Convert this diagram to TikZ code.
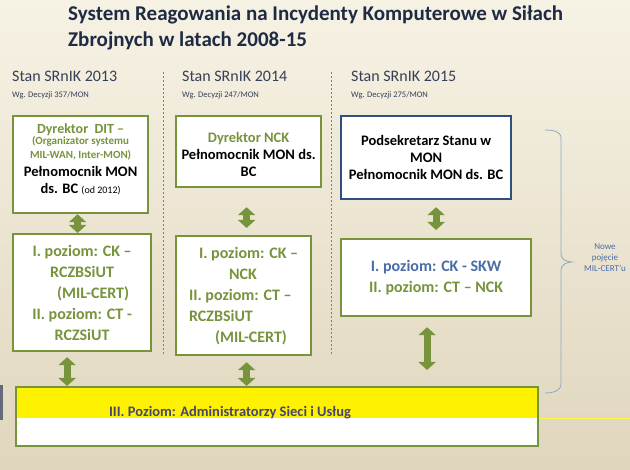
\documentclass[tikz,border=0pt]{standalone}
\usepackage{fontspec}
\setmainfont{Carlito}
\usetikzlibrary{arrows.meta}
\definecolor{gr}{HTML}{77933C}
\definecolor{bl}{HTML}{2F4F80}
\definecolor{tb}{HTML}{4A6DA7}
\definecolor{navy}{HTML}{1F2A44}
\definecolor{brc}{HTML}{8FA8C8}
\tikzset{
  box/.style={draw=gr,line width=2.2pt,fill=white,anchor=north west,inner sep=0pt},
  bbox/.style={box,draw=bl},
  txt/.style={font=\bfseries,align=center,inner sep=0pt},
  garrow/.style={draw=gr,line width=7pt,{Triangle[width=17pt,length=8pt]}-{Triangle[width=17pt,length=8pt]}},
  hdr/.style={anchor=north west,inner sep=0pt,font=\fontsize{16}{18}\selectfont,text=navy!90},
  sub/.style={anchor=north west,inner sep=0pt,font=\fontsize{8.5}{9}\selectfont,text=navy!90},
}
\begin{document}
\begin{tikzpicture}[x=1pt,y=-1pt]
\useasboundingbox (0,0) rectangle (630,470);
\shade[top color={rgb,255:red,246;green,242;blue,228},bottom color={rgb,255:red,224;green,214;blue,190}] (0,0) rectangle (630,470);
\node[anchor=north west,inner sep=0pt,font=\fontsize{21}{26}\selectfont\bfseries,text=navy,align=left] (title) at (68,6) {System Reagowania na Incydenty Komputerowe w Siłach\\Zbrojnych w latach 2008-15};
% headers
\node[hdr] (h1) at (12,71) {Stan SRnIK 2013};
\node[sub] (s1) at (12,91) {Wg. Decyzji 357/MON};
\node[hdr] (h2) at (182,71) {Stan SRnIK 2014};
\node[sub] (s2) at (182,91) {Wg. Decyzji 247/MON};
\node[hdr] (h3) at (351,71) {Stan SRnIK 2015};
\node[sub] (s3) at (351,91) {Wg. Decyzji 275/MON};
\draw[navy!60,dashed,dash pattern=on 2pt off 2pt] (163,72) coordinate (d1a) -- (163,355) coordinate (d1b);
\draw[navy!60,dashed,dash pattern=on 2pt off 2pt] (331,72) coordinate (d2a) -- (331,355) coordinate (d2b);
% column 1
\node[box,minimum width=135pt,minimum height=97pt] (a1) at (12,115) {};
\node[txt,anchor=north,text=gr,font=\fontsize{14}{16}\selectfont\bfseries] (a1t) at ([yshift=-8pt]a1.north) {Dyrektor\ \ DIT –};
\node[txt,anchor=north,text=gr,font=\fontsize{11}{13.5}\selectfont\bfseries] (a1u) at ([yshift=-1pt]a1t.south) {(Organizator systemu\\MIL-WAN, Inter-MON)};
\node[txt,anchor=north,font=\fontsize{14.5}{17}\selectfont\bfseries] (a1v) at ([yshift=-6pt]a1u.south) {Pełnomocnik MON\\ds. BC {\mdseries\fontsize{10}{10}\selectfont (od 2012)}};
\node[box,minimum width=138pt,minimum height=117pt] (b1) at (12,233) {};
\node[txt,text=gr,font=\fontsize{16}{21}\selectfont\bfseries] (b1t) at (b1.center) {I. poziom: CK –\\RCZBSiUT\\\hspace*{22pt}(MIL-CERT)\\II. poziom: CT -\\RCZSiUT};
% column 2
\node[box,minimum width=145pt,minimum height=71pt] (a2) at (175,115) {};
\node[txt,text=gr,anchor=north,font=\fontsize{14.5}{17}\selectfont\bfseries] (a2t) at ([yshift=-17pt]a2.north) {Dyrektor NCK};
\node[txt,anchor=north,font=\fontsize{14.5}{17}\selectfont\bfseries] (a2u) at ([yshift=-4pt]a2t.south) {Pełnomocnik MON ds.\\BC};
\node[box,minimum width=135pt,minimum height=119pt] (b2) at (175,235) {};
\node[txt,text=gr,align=left,font=\fontsize{16}{21}\selectfont\bfseries] (b2t) at (b2.center) {\hspace*{10pt}I. poziom: CK –\\\hspace*{40pt}NCK\\II. poziom: CT –\\RCZBSiUT\\\hspace*{26pt}(MIL-CERT)};
% column 3
\node[bbox,minimum width=170pt,minimum height=83pt] (a3) at (340,115) {};
\node[txt,font=\fontsize{14.5}{17}\selectfont\bfseries] (a3t) at (a3.center) {Podsekretarz Stanu w\\MON\\Pełnomocnik MON ds. BC};
\node[box,minimum width=190pt,minimum height=77pt] (b3) at (340,238) {};
\node[txt,font=\fontsize{16}{21}\selectfont\bfseries] (b3t) at (b3.center) {\textcolor{tb}{I. poziom: CK - SKW}\\\textcolor{gr}{II. poziom: CT – NCK}};
% bottom
\draw[yellow!70!white,line width=0.6pt] (537,418) coordinate (yl1) -- (630,418) coordinate (yl2);
\node[box,minimum width=522pt,minimum height=59pt,path picture={\fill[yellow] (path picture bounding box.north west) rectangle ([yshift=-31pt]path picture bounding box.north east);}] (c) at (15,386) {};
\node[txt,text={rgb,255:red,70;green,70;blue,110},font=\fontsize{14.5}{16}\selectfont\bfseries] (ct) at (230,413) {III. Poziom: Administratorzy Sieci i Usług};
\fill[navy!70] (0,385) rectangle (3,420);
% arrows
\draw[garrow] ([xshift=-3pt]a1.south) -- ([xshift=-3pt]b1.north -| a1.south);
\draw[garrow,shorten <=19pt,shorten >=7pt] ([xshift=-2pt]a2.south) -- ([xshift=-2pt]a2.south |- b2.north);
\draw[garrow,shorten <=7pt,shorten >=8pt] (a3.south -| b3.north) -- (b3.north);
\draw[garrow,shorten <=5pt] ([xshift=-15pt]b1.south) -- ([xshift=-15pt]b1.south |- c.north);
\draw[garrow,shorten <=6pt] ([xshift=3pt]b2.south) -- ([xshift=3pt]b2.south |- c.north);
\draw[garrow,shorten <=10pt,shorten >=16pt] ([xshift=-9pt]b3.south) -- ([xshift=-9pt]b3.south |- c.north);
% brace
\draw[brc,line width=0.8pt] (545,130) coordinate (br1) to[out=0,in=90] (561,138) -- (561,254) to[out=-90,in=180] (572,262) coordinate (brt) to[out=180,in=90] (561,270) -- (561,384) to[out=-90,in=0] (545,393) coordinate (br2);
\node[align=center,inner sep=0pt,text=tb,font=\fontsize{9}{11}\selectfont] (nw) at (605,258) {Nowe\\pojęcie\\MIL-CERT'u};
\end{tikzpicture}
\end{document}
